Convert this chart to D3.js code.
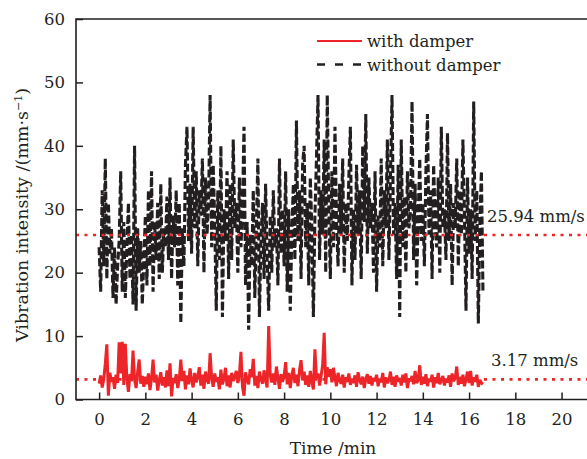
<!DOCTYPE html>
<html><head><meta charset="utf-8">
<script src="https://cdn.jsdelivr.net/npm/d3@7"></script>
<style>
body{margin:0;background:#fff}
svg{display:block}
text{font-family:"DejaVu Serif",serif;fill:#231f20}
</style>
</head><body>
<svg id="c" width="587" height="459"></svg>
<script>
// sampling interval of the records (minutes)
const sampleStepMin = 4 / 60;

// Vibration intensity without damper (mm/s), one value per sample
const withoutDamper = [
  24, 17, 33, 21, 38, 19, 31, 23, 27, 16, 24, 15, 21, 25, 36,
  17, 28, 16, 24, 31, 19, 26, 15, 40, 14, 27, 20, 25, 15, 22,
  29, 18, 33, 21, 36, 17, 28, 22, 31, 19, 34, 20, 27, 24, 32,
  22, 35, 19, 29, 24, 33, 18, 31, 12, 27, 21, 37, 43, 25, 34,
  23, 43, 27, 36, 21, 33, 29, 38, 20, 35, 26, 31, 48, 24, 37,
  28, 14, 33, 22, 40, 13, 30, 25, 36, 19, 34, 22, 41, 27, 31,
  20, 35, 24, 30, 43, 18, 28, 11, 26, 21, 33, 16, 27, 38, 13,
  25, 31, 19, 34, 22, 14, 29, 20, 33, 24, 27, 18, 38, 23, 30,
  21, 36, 17, 30, 14, 26, 34, 22, 44, 25, 33, 19, 37, 40, 24,
  31, 18, 35, 27, 13, 29, 38, 48, 22, 33, 26, 41, 20, 48, 30,
  19, 36, 24, 43, 28, 21, 34, 26, 38, 20, 31, 25, 35, 43, 18,
  30, 22, 37, 26, 33, 19, 40, 28, 45, 23, 35, 27, 31, 20, 36,
  17, 29, 24, 38, 21, 33, 27, 41, 22, 35, 48, 26, 31, 19, 37,
  13, 41, 24, 32, 20, 36, 27, 30, 47, 22, 34, 18, 29, 38, 25,
  31, 21, 36, 45, 26, 33, 19, 37, 28, 24, 35, 20, 43, 27, 30,
  22, 42, 25, 34, 18, 31, 27, 38, 21, 33, 26, 41, 29, 14, 35,
  23, 30, 19, 47, 25, 33, 12, 28, 36, 17
];

// Vibration intensity with damper (mm/s), same sampling
const withDamper = [
  2.5, 3.8, 1.9, 3.2, 5.6, 8.7, 0.6, 4.2, 2.8, 3.5, 1.7, 3.9, 2.6, 9.0, 4.1,
  9.1, 2.3, 8.8, 3.4, 1.2, 4.0, 2.9, 7.7, 3.1, 1.8, 4.4, 6.3, 2.5, 3.7, 2.0,
  3.6, 2.4, 4.1, 1.5, 3.3, 6.3, 2.7, 3.9, 1.4, 3.0, 4.3, 2.2, 3.5, 1.9, 4.6,
  2.1, 5.7, 0.5, 3.4, 2.6, 4.0, 1.8, 3.2, 6.3, 2.9, 4.5, 1.6, 3.8, 2.4, 4.9,
  3.0, 1.9, 4.2, 2.7, 3.6, 5.1, 2.2, 3.9, 1.7, 4.4, 3.1, 2.5, 7.3, 3.4, 2.0,
  4.1, 2.8, 3.5, 1.6, 4.7, 2.4, 3.3, 5.0, 2.1, 3.8, 1.9, 4.2, 2.9, 3.6, 4.5,
  2.6, 3.9, 7.5, 2.0, 0.6, 4.3, 3.1, 2.4, 4.8, 3.5, 6.4, 2.2, 3.7, 1.8, 4.4,
  3.2, 2.5, 4.6, 3.0, 1.9, 11.6, 3.8, 2.7, 4.1, 2.3, 5.2, 3.4, 1.7, 4.0, 2.8,
  3.6, 5.9, 2.4, 4.2, 1.8, 3.7, 5.0, 2.6, 3.9, 2.1, 4.6, 6.2, 3.0, 4.4, 2.3,
  3.8, 2.0, 4.5, 2.9, 1.6, 7.9, 3.3, 4.1, 2.2, 3.7, 5.4, 10.5, 2.4, 5.1, 3.6,
  4.8, 2.7, 5.0, 3.4, 2.1, 4.2, 3.0, 2.5, 3.9, 1.9, 3.5, 2.8, 4.1, 2.3, 3.3,
  2.6, 3.8, 2.0, 4.3, 3.1, 2.4, 3.6, 1.8, 3.2, 4.0, 2.5, 3.7, 2.2, 3.4, 2.9,
  3.9, 2.1, 3.3, 2.7, 4.2, 1.9, 3.5, 2.6, 3.0, 4.4, 2.3, 3.6, 2.0, 3.8, 2.8,
  3.4, 2.2, 3.9, 2.7, 4.1, 1.8, 3.2, 2.9, 3.7, 2.4, 4.5, 2.6, 3.1, 5.4, 2.3,
  3.6, 2.5, 4.0, 2.1, 3.3, 2.8, 3.9, 1.9, 3.5, 2.6, 4.2, 2.4, 3.0, 3.7, 2.2,
  3.3, 2.7, 3.8, 2.0, 4.1, 2.9, 3.4, 5.2, 2.3, 3.6, 2.5, 3.9, 2.1, 3.2, 4.4,
  2.6, 4.5, 2.2, 3.5, 2.8, 3.9, 2.0, 3.1, 2.6, 2.4
];

const xTicks = [0, 2, 4, 6, 8, 10, 12, 14, 16, 18, 20];
const yTicks = [0, 10, 20, 30, 40, 50, 60];
const meanValues = [25.94, 3.17];
const meanLabels = ["25.94 mm/s", "3.17 mm/s"];
const seriesNames = ["with damper", "without damper"];

const RED = "#ed2528", INK = "#231f20";
const svg = d3.select("#c");
const pL = 76, pR = 587, pT = 19, pB = 399.5;

const x = d3.scaleLinear().domain([-1, 21.1]).range([pL, pR]);
const y = d3.scaleLinear().domain([0, 60]).range([pB, pT]);

svg.append("defs").append("clipPath").attr("id", "plot")
  .append("rect").attr("x", pL).attr("y", pT).attr("width", pR - pL).attr("height", pB - pT);

const plot = svg.append("g").attr("clip-path", "url(#plot)");
const line = d3.line().x((d, i) => x(i * sampleStepMin)).y(d => y(d));

plot.append("path").datum(withoutDamper).attr("d", line)
  .attr("fill", "none").attr("stroke", INK).attr("stroke-width", 3.1)
  .attr("stroke-dasharray", "8,3").attr("stroke-linejoin", "bevel");

plot.append("path").datum(withDamper).attr("d", line)
  .attr("fill", "none").attr("stroke", RED).attr("stroke-width", 3)
  .attr("stroke-linejoin", "bevel");

plot.selectAll("line.mean").data(meanValues).join("line").attr("class", "mean")
  .attr("x1", pL).attr("x2", pR).attr("y1", d => y(d)).attr("y2", d => y(d))
  .attr("stroke", RED).attr("stroke-width", 2.6).attr("stroke-dasharray", "3,5.5");

svg.selectAll("text.mean").data(meanValues).join("text").attr("class", "mean")
  .attr("x", (d, i) => i === 0 ? 487 : 491)
  .attr("y", d => y(d) - 13)
  .attr("font-size", 16.5).text((d, i) => meanLabels[i]);

// axes (ticks inward)
const gx = svg.append("g").attr("transform", `translate(0,${pB})`)
  .call(d3.axisBottom(x).tickValues(xTicks).tickSize(-7).tickPadding(13.5).tickFormat(d3.format("d")));
const gy = svg.append("g").attr("transform", `translate(${pL},0)`)
  .call(d3.axisLeft(y).tickValues(yTicks).tickSize(-7).tickPadding(11).tickFormat(d3.format("d")));
[gx, gy].forEach(g => {
  g.select(".domain").remove();
  g.selectAll(".tick line").attr("stroke", INK).attr("stroke-width", 1.5);
  g.selectAll(".tick text").attr("font-size", 16.5).attr("font-family", "DejaVu Serif").attr("fill", INK);
});

// frame
svg.append("path")
  .attr("d", `M${pR},${pT}H${pL}V${pB}H${pR}`)
  .attr("fill", "none").attr("stroke", INK).attr("stroke-width", 1.6);

// axis titles
svg.append("text").attr("x", 333).attr("y", 454).attr("text-anchor", "middle")
  .attr("font-size", 17).text("Time /min");
const yt = svg.append("text").attr("transform", "translate(28,215) rotate(-90)")
  .attr("text-anchor", "middle").attr("font-size", 17.5);
yt.append("tspan").text("Vibration intensity /(mm\u00b7s");
yt.append("tspan").attr("dy", -6).attr("font-size", 11).text("\u22121");
yt.append("tspan").attr("dy", 6).text(")");

// legend
const leg = svg.append("g");
leg.append("line").attr("x1", 317).attr("x2", 362).attr("y1", 41).attr("y2", 41)
  .attr("stroke", RED).attr("stroke-width", 2.2);
leg.append("line").attr("x1", 317).attr("x2", 362).attr("y1", 64.5).attr("y2", 64.5)
  .attr("stroke", INK).attr("stroke-width", 2.4).attr("stroke-dasharray", "8,10");
leg.selectAll("text").data(seriesNames).join("text")
  .attr("x", 367).attr("y", (d, i) => 47 + i * 23.5).attr("font-size", 16.5).text(d => d);
</script>
</body></html>
